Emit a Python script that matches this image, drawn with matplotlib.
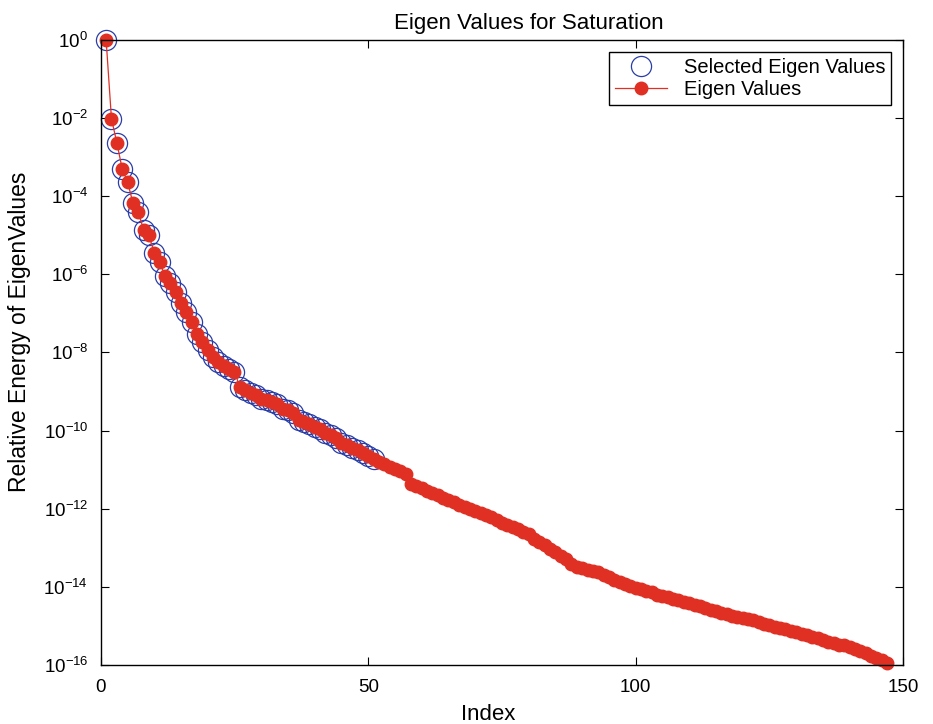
import numpy as np
import matplotlib
matplotlib.use("Agg")
from matplotlib import pyplot as plt

plt.rcParams['font.family'] = ['Liberation Sans', 'DejaVu Sans']

# log10 of relative energy (index 1..147)
log_energy = [
    0.00, -2.02, -2.63, -3.30, -3.63, -4.17, -4.40, -4.86, -5.00, -5.45,
    -5.68, -6.04, -6.22, -6.45, -6.73, -6.96, -7.22, -7.53, -7.73, -7.94,
    -8.12, -8.24, -8.35, -8.42, -8.50, -8.88, -8.95, -9.03, -9.10, -9.18,
    -9.22, -9.28, -9.33, -9.45, -9.48, -9.55, -9.72, -9.78, -9.84, -9.90,
    -9.97, -10.05, -10.12, -10.20, -10.32, -10.38, -10.44, -10.50, -10.58, -10.66,
    -10.72, -10.80, -10.86, -10.92, -10.98, -11.04, -11.10, -11.38, -11.42, -11.47,
    -11.55, -11.60, -11.66, -11.72, -11.78, -11.84, -11.90, -11.95, -12.00, -12.06,
    -12.10, -12.16, -12.22, -12.30, -12.36, -12.42, -12.46, -12.52, -12.60, -12.66,
    -12.78, -12.86, -12.92, -13.02, -13.12, -13.22, -13.30, -13.42, -13.48, -13.52,
    -13.56, -13.60, -13.62, -13.70, -13.76, -13.82, -13.88, -13.93, -13.98, -14.02,
    -14.06, -14.10, -14.14, -14.20, -14.24, -14.26, -14.30, -14.34, -14.38, -14.42,
    -14.46, -14.50, -14.55, -14.58, -14.62, -14.66, -14.70, -14.74, -14.77, -14.80,
    -14.82, -14.86, -14.90, -14.94, -14.98, -15.02, -15.06, -15.09, -15.13, -15.16,
    -15.20, -15.24, -15.28, -15.32, -15.36, -15.40, -15.44, -15.48, -15.50, -15.53,
    -15.58, -15.64, -15.70, -15.76, -15.82, -15.88, -15.95,
]
n_selected = 51

energy = 10.0 ** np.array(log_energy)
index = np.arange(1, len(energy) + 1)

fig = plt.figure(figsize=(9.33, 7.24), dpi=100)
ax = fig.add_axes([0.108, 0.0815, 0.860, 0.8635])

ax.semilogy(index[:n_selected], energy[:n_selected], 'o', mfc='none', mec='#2a3ea8',
            ms=14.5, mew=0.9, label='Selected Eigen Values', clip_on=False)
ax.semilogy(index, energy, '-o', color='#e03024', mfc='#e03024', mec='#e03024',
            ms=9, lw=0.9, label='Eigen Values', clip_on=False)

ax.set_xlim(0, 150)
ax.set_ylim(1e-16, 1e0)
ax.set_xticks([0, 50, 100, 150])
ax.set_yticks(10.0 ** np.arange(0, -17, -2))
ax.minorticks_off()
ax.tick_params(direction='in', top=True, right=True, labelsize=13.5, length=6, width=0.8)
ax.tick_params(axis='y', pad=9)
ax.tick_params(axis='x', pad=10)
for s in ax.spines.values():
    s.set_linewidth(1.0)

ttl = ax.set_title('Eigen Values for Saturation', fontsize=16, pad=8)
ttl.set_position((0.534, 1.0))
ax.set_xlabel('Index', fontsize=16, labelpad=6)
ax.xaxis.set_label_coords(0.483, -0.062)
ax.set_ylabel('Relative Energy of EigenValues', fontsize=16.5)
ax.yaxis.set_label_coords(-0.087, 0.533)

leg = ax.legend(loc='upper right', fontsize=14.5, fancybox=False, framealpha=1,
                edgecolor='black', borderpad=0.3, handlelength=2.6, labelspacing=0.15,
                borderaxespad=0.6)
leg.get_frame().set_linewidth(1.0)

fig.savefig('out.png', dpi=100)
